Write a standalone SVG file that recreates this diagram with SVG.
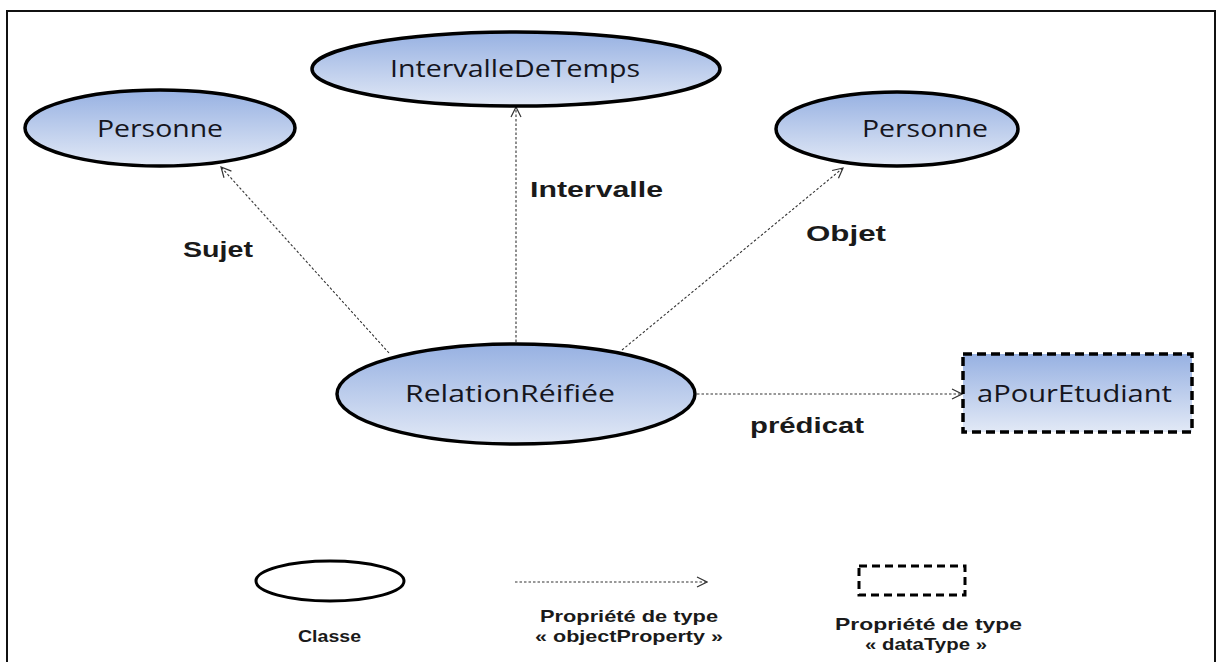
<svg xmlns="http://www.w3.org/2000/svg" width="1218" height="662" viewBox="0 0 1218 662">
<defs>
<linearGradient id="fill" x1="0" y1="0" x2="0" y2="1">
<stop offset="0" stop-color="#97b1e2"/>
<stop offset="1" stop-color="#e2e9f6"/>
</linearGradient>
<marker id="arr" viewBox="0 0 12 12" refX="11" refY="6" markerWidth="12" markerHeight="12" markerUnits="userSpaceOnUse" orient="auto">
<path d="M1,1 L11,6 L1,11" fill="none" stroke="#333" stroke-width="1.2"/>
</marker>
</defs>
<style>
.node{fill:url(#fill);stroke:#000;stroke-width:3.5}
.dash{stroke-dasharray:9 5}
.lbl{font-family:"Open Sans","Liberation Sans",sans-serif;font-size:23px;fill:#151520}
.bold{font-family:"Liberation Sans",sans-serif;font-weight:bold;font-size:22px;fill:#1a1a1a}
.leg{font-family:"Liberation Sans",sans-serif;font-weight:bold;font-size:17px;fill:#1a1a1a}
.conn{fill:none;stroke:#333;stroke-width:1.1;stroke-dasharray:2.5 2;marker-end:url(#arr)}
</style>
<rect x="0" y="0" width="1218" height="662" fill="#fff"/>
<rect x="7" y="11" width="1208" height="670" fill="none" stroke="#111" stroke-width="2"/>
<g id="connectors">
<path class="conn" d="M389,353 L221,167"/>
<path class="conn" d="M516,342 L516,107"/>
<path class="conn" d="M622,350 L843,168"/>
<path class="conn" d="M697,394 L962,394"/>
</g>
<g id="personne1">
<ellipse class="node" cx="160" cy="128" rx="135" ry="38"/>
<text class="lbl" x="97" y="137" textLength="126" lengthAdjust="spacingAndGlyphs">Personne</text>
</g>
<g id="intervalleDeTemps">
<ellipse class="node" cx="516" cy="69" rx="204" ry="37"/>
<text class="lbl" x="390" y="77" textLength="250" lengthAdjust="spacingAndGlyphs">IntervalleDeTemps</text>
</g>
<g id="personne2">
<ellipse class="node" cx="897" cy="129" rx="121" ry="37"/>
<text class="lbl" x="862" y="137" textLength="126" lengthAdjust="spacingAndGlyphs">Personne</text>
</g>
<g id="relationReifiee">
<ellipse class="node" cx="516" cy="394" rx="179" ry="50"/>
<text class="lbl" x="405" y="402" textLength="210" lengthAdjust="spacingAndGlyphs">RelationRéifiée</text>
</g>
<g id="aPourEtudiant">
<rect class="node dash" x="963" y="354" width="229" height="78"/>
<text class="lbl" x="977" y="402" textLength="195" lengthAdjust="spacingAndGlyphs">aPourEtudiant</text>
</g>
<g id="labels">
<text class="bold" x="530" y="197" textLength="133" lengthAdjust="spacingAndGlyphs">Intervalle</text>
<text class="bold" x="183" y="257" textLength="70" lengthAdjust="spacingAndGlyphs">Sujet</text>
<text class="bold" x="806" y="241" textLength="80" lengthAdjust="spacingAndGlyphs">Objet</text>
<text class="bold" x="750" y="433" textLength="114" lengthAdjust="spacingAndGlyphs">prédicat</text>
</g>
<g id="legend">
<ellipse cx="330" cy="581" rx="74" ry="20" fill="none" stroke="#000" stroke-width="3"/>
<text class="leg" x="298" y="642" textLength="63" lengthAdjust="spacingAndGlyphs">Classe</text>
<path class="conn" d="M515,582 L707,582"/>
<text class="leg" x="540" y="622" textLength="178" lengthAdjust="spacingAndGlyphs">Propriété de type</text>
<text class="leg" x="535" y="642" textLength="188" lengthAdjust="spacingAndGlyphs">« objectProperty »</text>
<rect x="859" y="566" width="106" height="29" fill="none" stroke="#000" stroke-width="3" stroke-dasharray="8 5"/>
<text class="leg" x="835" y="630" textLength="187" lengthAdjust="spacingAndGlyphs">Propriété de  type</text>
<text class="leg" x="865" y="650" textLength="122" lengthAdjust="spacingAndGlyphs">« dataType »</text>
</g>
</svg>
